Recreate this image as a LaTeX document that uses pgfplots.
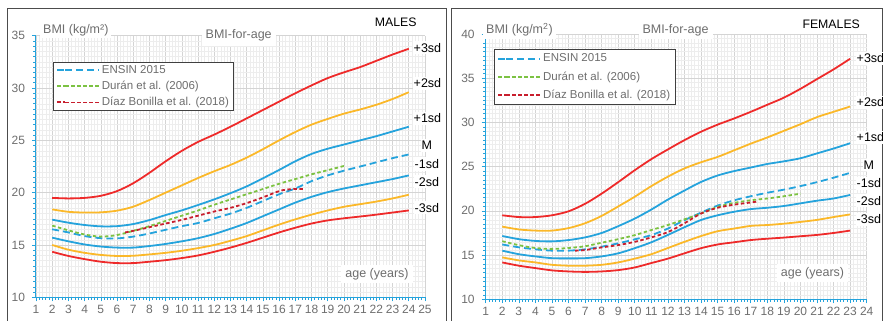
\documentclass[border=0pt]{standalone}
\usepackage{pgfplots}
\pgfplotsset{compat=1.18}
\usepackage{pgfplotstable}
\usepackage{fontspec}
\setmainfont{Liberation Sans}
\definecolor{cred}{HTML}{EE2A2A}
\definecolor{cyel}{HTML}{FBB829}
\definecolor{cblu}{HTML}{25A3DC}
\definecolor{cgrn}{HTML}{7CC242}
\definecolor{cdred}{HTML}{C81E2D}
\definecolor{tgray}{HTML}{6E6E6E}

% Males: age, -3sd red, yellow low, blue low, blue up, yellow up, red up
\pgfplotstableread{
age rl yl bl bu yu ru
2 14.35 15.00 15.70 17.42 18.40 19.50
3 13.95 14.55 15.35 17.13 18.17 19.45
4 13.65 14.25 15.05 16.91 18.10 19.50
5 13.40 14.05 14.85 16.78 18.12 19.70
6 13.27 13.95 14.75 16.80 18.28 20.15
7 13.27 13.97 14.75 17.00 18.66 20.90
8 13.40 14.10 14.90 17.38 19.30 21.90
9 13.55 14.25 15.10 17.86 20.00 23.00
10 13.75 14.45 15.35 18.31 20.70 24.00
11 14.00 14.70 15.65 18.82 21.40 24.85
12 14.35 15.00 16.05 19.36 22.05 25.55
13 14.75 15.40 16.55 19.95 22.65 26.30
14 15.20 15.85 17.10 20.60 23.35 27.10
15 15.70 16.40 17.75 21.37 24.15 27.90
16 16.20 16.95 18.40 22.17 25.00 28.70
17 16.65 17.45 19.05 23.00 25.80 29.50
18 17.05 17.90 19.60 23.70 26.50 30.25
19 17.35 18.30 20.05 24.20 27.05 30.95
20 17.55 18.65 20.40 24.60 27.55 31.50
21 17.72 18.90 20.70 25.00 27.95 32.00
22 17.90 19.15 21.00 25.40 28.40 32.60
23 18.10 19.45 21.30 25.85 28.95 33.20
24 18.30 19.80 21.65 26.30 29.60 33.75
}\males

\pgfplotstableread{
age v
2 16.50
3 16.20
4 15.85
5 15.65
6 15.63
7 15.80
8 16.10
9 16.45
10 16.80
11 17.10
12 17.55
13 18.00
14 18.55
15 19.20
16 19.85
17 20.40
18 21.10
19 21.65
20 22.10
21 22.50
22 22.90
23 23.30
24 23.65
}\mensin

\pgfplotstableread{
age v
2 16.85
3 16.40
4 16.00
5 15.80
6 15.95
7 16.35
8 16.80
9 17.30
10 17.80
11 18.30
12 18.85
13 19.35
14 19.85
15 20.35
16 20.85
17 21.30
18 21.75
19 22.15
20 22.55
}\mduran

\pgfplotstableread{
age v
6.5 16.20
7 16.35
8 16.70
9 17.05
10 17.40
11 17.80
12 18.20
13 18.55
14 19.00
15 19.55
16 20.15
16.5 20.30
17 20.35
17.6 20.35
}\mdiaz

% Females
\pgfplotstableread{
age rl yl bl bu yu ru
2 14.17 14.74 15.50 17.16 18.22 19.50
3 13.80 14.40 15.10 16.80 17.90 19.30
4 13.53 14.17 14.85 16.60 17.77 19.30
5 13.27 13.90 14.65 16.55 17.77 19.50
6 13.15 13.80 14.63 16.70 18.05 19.95
7 13.10 13.80 14.65 17.00 18.60 20.80
8 13.15 13.90 14.85 17.50 19.43 21.95
9 13.30 14.17 15.20 18.27 20.50 23.25
10 13.60 14.60 15.78 19.13 21.60 24.60
11 14.10 15.10 16.45 20.15 22.80 25.85
12 14.60 15.80 17.28 21.28 23.87 26.95
13 15.20 16.50 18.15 22.30 24.80 28.00
14 15.78 17.15 18.97 23.27 25.50 28.95
15 16.20 17.70 19.50 24.00 26.10 29.75
16 16.45 18.00 19.90 24.50 26.85 30.45
17 16.70 18.30 20.20 24.90 27.60 31.20
18 16.85 18.40 20.35 25.30 28.30 32.00
19 16.98 18.55 20.55 25.60 29.05 32.80
20 17.13 18.75 20.85 25.95 29.80 33.80
21 17.28 18.98 21.15 26.50 30.60 34.90
22 17.50 19.30 21.40 27.05 31.20 36.00
23 17.77 19.60 21.80 27.65 31.80 37.20
}\females

\pgfplotstableread{
age v
2 16.20
3 15.88
4 15.65
5 15.50
6 15.50
7 15.65
8 15.95
9 16.33
10 16.78
11 17.26
12 18.00
13 18.95
14 19.80
15 20.60
16 21.20
17 21.65
18 22.05
19 22.40
20 22.80
21 23.25
22 23.75
23 24.30
}\fensin

\pgfplotstableread{
age v
2 16.57
3 16.12
4 15.80
5 15.70
6 15.80
7 16.00
8 16.40
9 16.80
10 17.26
11 17.83
12 18.40
13 19.04
14 19.70
15 20.45
16 20.90
17 21.20
18 21.40
19 21.65
20 21.95
}\fduran

\pgfplotstableread{
age v
6.4 15.50
7 15.57
8 15.87
9 16.13
10 16.50
11 17.00
12 17.60
13 18.60
14 19.70
15 20.35
16 20.70
17 20.95
17.4 21.05
}\fdiaz

\pgfplotsset{
 bmistyle/.style={
  scale only axis,
  axis x line*=bottom, axis y line*=left,
  axis line style={cblu, line width=1pt},
  every tick/.style={cblu, line width=0.6pt},
  tick align=outside,
  major tick length=4pt, minor tick length=2.5pt,
  grid=both,
  major grid style={draw=black!17, line width=0.6pt},
  minor grid style={draw=black!7, line width=0.4pt},
  minor x tick num=4, minor y tick num=9,
  ticklabel style={font=\fontsize{12}{12}\selectfont, text=tgray},
  /pgf/number format/assume math mode=true,
  yticklabel style={xshift=-3.5pt},
  legend cell align=left,
  legend image code/.code={\path (0pt,0pt) -- (8pt,0pt);\draw[##1, line width=1.7pt] (8pt,0pt) -- (42pt,0pt);},
  legend style={draw=black!75, line width=0.8pt, inner xsep=3pt, inner ysep=0pt,
     font=\fontsize{11.5}{12}\selectfont, text=tgray, anchor=north west},
 },
 sol/.style={line width=1.8pt, smooth, forget plot},
 ldash/.style={line width=1.8pt, smooth, dash pattern=on 7pt off 4pt},
 sdash/.style={line width=1.8pt, smooth, dash pattern=on 3.5pt off 2.5pt},
}

\begin{document}
\begin{tikzpicture}[x=1pt,y=1pt]
\useasboundingbox (0,0) rectangle (883,321);
\draw[black!70, line width=1pt] (7,-3) rectangle (446.5,312);
\draw[black!70, line width=1pt] (451.5,-3) rectangle (882.3,312);

% ---------- MALES ----------
\begin{axis}[bmistyle, at={(36pt,23.7pt)}, anchor=origin, width=389pt, height=261.6pt,
  xmin=1, xmax=25, ymin=10, ymax=35,
  xtick={1,...,25}, ytick={10,15,...,35},
  legend style={at={(axis description cs:0.043,0.8995)}, nodes={inner ysep=3.1pt}}]
\addplot[sol, cred] table[x=age,y=rl] {\males};
\addplot[sol, cyel] table[x=age,y=yl] {\males};
\addplot[sol, cblu] table[x=age,y=bl] {\males};
\addplot[sol, cblu] table[x=age,y=bu] {\males};
\addplot[sol, cyel] table[x=age,y=yu] {\males};
\addplot[sol, cred] table[x=age,y=ru] {\males};
\addplot[ldash, cblu] table[x=age,y=v] {\mensin};
\addlegendentry{ENSIN 2015}
\addplot[sdash, cgrn] table[x=age,y=v] {\mduran};
\addlegendentry{Durán et al. (2006)}
\addplot[sdash, cdred] table[x=age,y=v] {\mdiaz};
\addlegendentry{Díaz Bonilla et al. (2018)}
\end{axis}

\node[anchor=west, fill=white, inner xsep=3pt, inner ysep=2pt, text=tgray, font=\fontsize{12.5}{13}\selectfont] at (40,291) {BMI (kg/m²)};
\node[fill=white, inner xsep=4pt, inner ysep=4pt, text=tgray, font=\fontsize{12.5}{13}\selectfont] at (238.7,285.3) {BMI-for-age};
\node[font=\fontsize{12.3}{13}\selectfont] at (395.8,298.3) {MALES};
\begin{scope}[every node/.style={anchor=west, fill=white, inner xsep=1pt, inner ysep=2pt, font=\fontsize{12.5}{13}\selectfont}]
\node at (412.5,273.3) {+3sd};
\node at (412.5,237.7) {+2sd};
\node at (412.5,202.7) {+1sd};
\node at (420.5,175.3) {M};
\node at (413.5,157) {-1sd};
\node at (413.5,139.3) {-2sd};
\node at (413.5,113.3) {-3sd};
\end{scope}
\node[fill=white, inner xsep=4pt, inner ysep=3pt, text=tgray, font=\fontsize{12.5}{13}\selectfont] at (377,46.7) {age (years)};

% ---------- FEMALES ----------
\begin{axis}[bmistyle, at={(485.7pt,21.7pt)}, anchor=origin, width=381pt, height=265.3pt,
  xmin=1, xmax=24, ymin=10, ymax=40,
  xtick={1,...,24}, ytick={10,15,...,40},
  legend style={at={(axis description cs:0.0218,0.9423)}, nodes={inner ysep=4.2pt}}]
\addplot[sol, cred] table[x=age,y=rl] {\females};
\addplot[sol, cyel] table[x=age,y=yl] {\females};
\addplot[sol, cblu] table[x=age,y=bl] {\females};
\addplot[sol, cblu] table[x=age,y=bu] {\females};
\addplot[sol, cyel] table[x=age,y=yu] {\females};
\addplot[sol, cred] table[x=age,y=ru] {\females};
\addplot[ldash, cblu] table[x=age,y=v] {\fensin};
\addlegendentry{ENSIN 2015}
\addplot[sdash, cgrn] table[x=age,y=v] {\fduran};
\addlegendentry{Durán et al. (2006)}
\addplot[sdash, cdred] table[x=age,y=v] {\fdiaz};
\addlegendentry{Díaz Bonilla et al. (2018)}
\end{axis}

\node[anchor=west, fill=white, inner xsep=3pt, inner ysep=2pt, text=tgray, font=\fontsize{12.5}{13}\selectfont] at (483,291) {BMI (kg/m\textsuperscript{2})};
\node[fill=white, inner xsep=4pt, inner ysep=3pt, text=tgray, font=\fontsize{12.5}{13}\selectfont] at (675.5,291) {BMI-for-age};
\node[font=\fontsize{12.3}{13}\selectfont] at (831.2,296.7) {FEMALES};
\begin{scope}[every node/.style={anchor=west, fill=white, inner xsep=1pt, inner ysep=2pt, font=\fontsize{12.5}{13}\selectfont}]
\node at (855.5,262.7) {+3sd};
\node at (855.5,218.7) {+2sd};
\node at (855.5,183.7) {+1sd};
\node at (862.5,156) {M};
\node at (855.5,137.7) {-1sd};
\node at (855.5,120.3) {-2sd};
\node at (855.5,101.7) {-3sd};
\end{scope}
\node[fill=white, inner xsep=4pt, inner ysep=3pt, text=tgray, font=\fontsize{12.5}{13}\selectfont] at (812.5,47.7) {age (years)};
\end{tikzpicture}
\end{document}
